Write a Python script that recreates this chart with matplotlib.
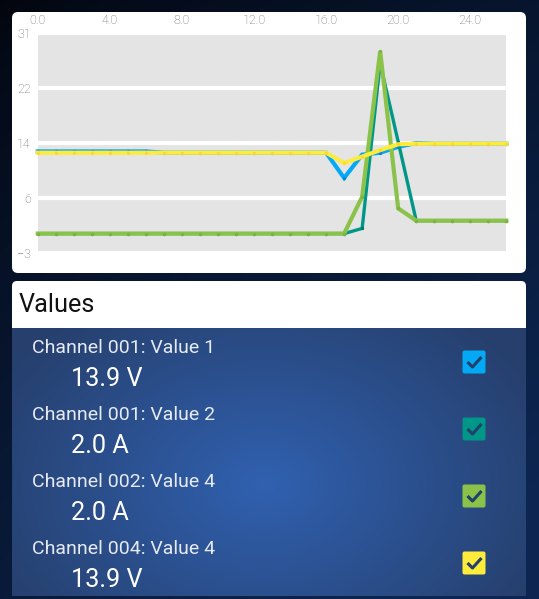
import matplotlib.pyplot as plt
import numpy as np
from matplotlib.patches import FancyBboxPatch

# ---- data ----
x_vals = list(range(27))
ch001_v1 = [12.7] * 7 + [12.5] * 10 + [8.6, 12.2, 12.5, 13.4, 14.0] + [13.9] * 5
ch001_v2 = [0.0] * 18 + [0.8, 26.3, 14.2] + [2.0] * 6
ch002_v4 = [0.0] * 18 + [5.7, 28.2, 3.9] + [2.0] * 6
ch004_v4 = [12.5] * 17 + [10.9, 11.9, 12.9, 13.8] + [13.9] * 6

series_names = ["Channel 001: Value 1", "Channel 001: Value 2",
                "Channel 002: Value 4", "Channel 004: Value 4"]
series_values = [ch001_v1, ch001_v2, ch002_v4, ch004_v4]
current_labels = ["13.9 V", "2.0 A", "2.0 A", "13.9 V"]
colors = ["#03A9F4", "#009688", "#8BC34A", "#FFEB3B"]
marker_colors = ["#0288D1", "#00796B", "#7CB342", "#FDD835"]

y_ticks = list(np.linspace(-3, 31, 5))
y_labels = ["\u22123", "6", "14", "22", "31"]
x_ticks = [0, 4, 8, 12, 16, 20, 24]

W, H = 539, 599
plt.rcParams["font.family"] = ["Roboto", "DejaVu Sans"]
fig = plt.figure(figsize=(W / 100, H / 100), dpi=100)

# background gradient
bg = fig.add_axes([0, 0, 1, 1], zorder=-10)
yy, xx = np.mgrid[0:1:300j, 0:1:270j]
t = np.clip(0.55 * yy + 0.35 * xx + 0.25 * yy * xx, 0, 1) ** 0.7
top = np.array([0.01, 0.02, 0.05])
bot = np.array([0.05, 0.15, 0.32])
img = top[None, None, :] * (1 - t[..., None]) + bot[None, None, :] * t[..., None]
bg.imshow(img, extent=[0, W, H, 0], aspect="auto")

# list panel radial gradient
cx, cy = 265, 485
py, px = np.mgrid[328:597:200j, 12:526:300j]
r = np.sqrt(((px - cx) / 300) ** 2 + ((py - cy) / 220) ** 2)
r = np.clip(r, 0, 1)
inner = np.array([0.19, 0.38, 0.69])
outer = np.array([0.15, 0.25, 0.43])
pimg = inner[None, None, :] * (1 - r[..., None]) + outer[None, None, :] * r[..., None]
bg.imshow(pimg, extent=[12, 526, 596, 328], aspect="auto")
bg.set_xlim(0, W)
bg.set_ylim(H, 0)
bg.axis("off")

# white cards
bg.add_patch(FancyBboxPatch((12, 12), 514, 261, boxstyle="round,pad=0,rounding_size=6",
                            fc="white", ec="none"))
bg.add_patch(FancyBboxPatch((12, 281), 514, 47, boxstyle="round,pad=0,rounding_size=5",
                            fc="white", ec="none"))
bg.add_patch(plt.Rectangle((12, 310), 514, 18, fc="white", ec="none"))
bg.text(19, 305, "Values", fontsize=18.2, color="#111111", va="center", ha="left")

# list rows
for i, (name, cur, col) in enumerate(zip(series_names, current_labels, colors)):
    row_y = 353 + 67 * i
    bg.text(31.5, row_y, name, fontsize=14, color="#e6ebf3", va="baseline", ha="left")
    bg.text(71, row_y + 33, cur, fontsize=18.2, color="white", va="baseline", ha="left")
    cyb = row_y + 9
    bg.add_patch(FancyBboxPatch((462.5, cyb - 11.5), 23, 23, boxstyle="round,pad=0,rounding_size=2",
                                fc=col, ec="none"))
    bg.plot([467.5, 472.5, 481.5], [cyb, cyb + 5, cyb - 5], color="#233f6c", lw=2.2,
            solid_capstyle="butt")

# chart
ax = fig.add_axes([37.8 / W, 1 - 253 / H, 468.5 / W, 220 / H])
ax.set_facecolor("#e4e4e4")
for s in ax.spines.values():
    s.set_visible(False)
ax.set_xlim(0, 26.0)
ax.set_ylim(-3, 31)
ax.set_yticks(y_ticks)
ax.set_yticklabels(y_labels)
ax.set_xticks(x_ticks)
ax.set_xticklabels([f"{v:.1f}" for v in x_ticks])
ax.xaxis.tick_top()
ax.tick_params(length=0, labelsize=9, colors="#6e6e6e", pad=4)
ax.tick_params(axis="y", pad=5)
for lbl in ax.get_xticklabels() + ax.get_yticklabels():
    lbl.set_fontweight("light")
ax.grid(axis="y", color="white", lw=3)
ax.grid(axis="x", visible=False)
ax.set_axisbelow(True)

widths = [3.0, 2.4, 3.0, 3.0]
for k in range(len(series_values)):
    ax.plot(x_vals, series_values[k], color=colors[k], lw=widths[k], clip_on=False,
            solid_joinstyle="miter", zorder=3 + k)
    ax.plot(x_vals, series_values[k], ls="none", marker="o", ms=1.4,
            color=marker_colors[k], clip_on=False, zorder=3 + k)

fig.savefig("out.png", dpi=100)
